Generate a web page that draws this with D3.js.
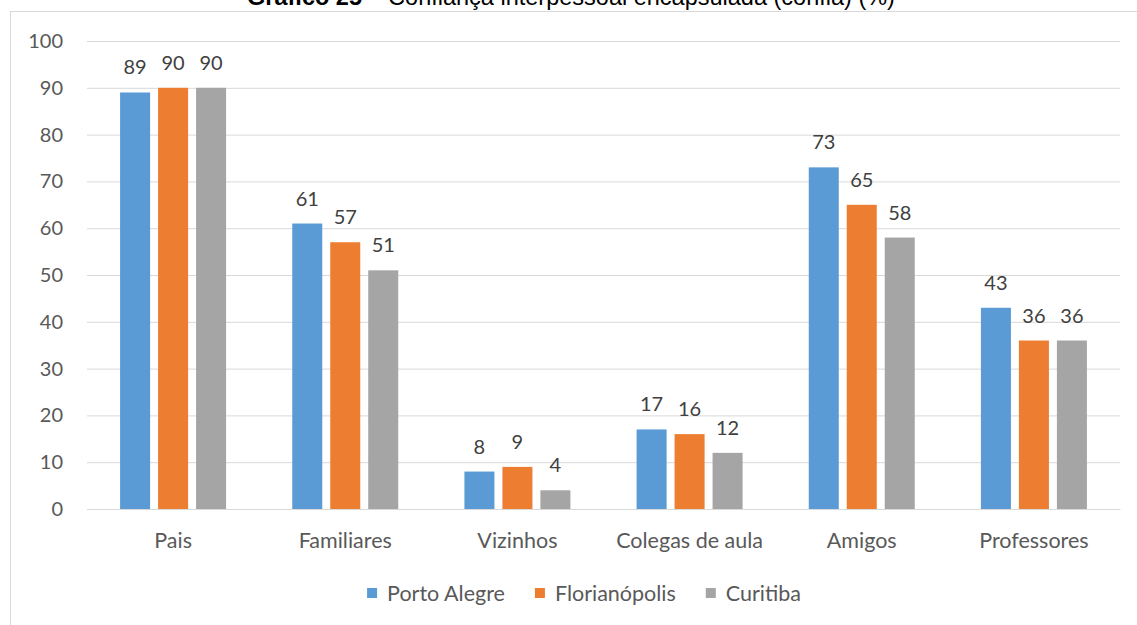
<!DOCTYPE html>
<html>
<head>
<meta charset="utf-8">
<script src="https://cdn.jsdelivr.net/npm/d3@7"></script>
<style>
  html, body { margin: 0; padding: 0; background: #ffffff; }
  svg { display: block; }
</style>
</head>
<body>
<svg id="chart" width="1137" height="625"></svg>
<script>
// Categories, series and values
const categories = ["Pais", "Familiares", "Vizinhos", "Colegas de aula", "Amigos", "Professores"];
const seriesNames = ["Porto Alegre", "Florianópolis", "Curitiba"];
const portoAlegre = [89, 61, 8, 17, 73, 43];
const florianopolis = [90, 57, 9, 16, 65, 36];
const curitiba = [90, 51, 4, 12, 58, 36];
const seriesColors = ["#5b9bd5", "#ed7d31", "#a5a5a5"];
const yTicks = [0, 10, 20, 30, 40, 50, 60, 70, 80, 90, 100];

const seriesValues = [portoAlegre, florianopolis, curitiba];
const rows = categories.map((c, i) => ({
  category: c,
  values: seriesNames.map((s, k) => ({ series: s, value: seriesValues[k][i] }))
}));

const svg = d3.select("#chart");
const W = 1137, H = 625;
const labelFont = "Lato, 'Open Sans', sans-serif";
const numberSize = 20;
const textSize = 21.5;

// Outer chart frame (extends past the right/bottom edge)
svg.append("rect")
  .attr("x", 10.5).attr("y", 11.5)
  .attr("width", W + 20).attr("height", H + 20)
  .attr("fill", "none").attr("stroke", "#d9d9d9").attr("stroke-width", 1);

// Title, partly above the frame
const title = svg.append("text")
  .attr("x", 571).attr("y", 5)
  .attr("text-anchor", "middle")
  .attr("font-family", "'Liberation Sans', Arial, sans-serif")
  .attr("font-size", 23.5)
  .attr("fill", "#000");
title.append("tspan").attr("font-weight", "bold").text("Gráfico 25");
title.append("tspan").text(" – Confiança interpessoal encapsulada (confia) (%)");

const plot = { left: 87, right: 1120, top: 41, bottom: 509 };

const x0 = d3.scaleBand()
  .domain(categories)
  .range([plot.left, plot.right])
  .paddingInner(0).paddingOuter(0);

const x1 = d3.scaleBand()
  .domain(seriesNames)
  .range([0, 106])
  .paddingInner(0.21).paddingOuter(0);
const groupOffset = (x0.bandwidth() - 106) / 2;

const y = d3.scaleLinear().domain([0, 100]).range([plot.bottom, plot.top]);

// Horizontal gridlines and y tick labels
const yAxis = d3.axisLeft(y)
  .tickValues(yTicks)
  .tickSize(-(plot.right - plot.left))
  .tickPadding(24)
  .tickFormat(d3.format("d"));
const gy = svg.append("g")
  .attr("transform", `translate(${plot.left},0)`)
  .call(yAxis);
gy.select(".domain").remove();
gy.selectAll(".tick line").attr("stroke", "#d9d9d9").attr("stroke-width", 1);
gy.selectAll(".tick text")
  .attr("font-family", labelFont)
  .attr("font-size", numberSize)
  .attr("fill", "#595959");

// Category axis
const xAxis = d3.axisBottom(x0).tickSize(0).tickPadding(24);
const gx = svg.append("g")
  .attr("transform", `translate(0,${plot.bottom})`)
  .call(xAxis);
gx.select(".domain").attr("stroke", "#d9d9d9");
gx.selectAll(".tick text")
  .attr("font-family", labelFont)
  .attr("font-size", textSize)
  .attr("fill", "#595959");

// Bars
const groups = svg.append("g").selectAll("g")
  .data(rows)
  .join("g")
  .attr("transform", d => `translate(${x0(d.category) + groupOffset},0)`);

groups.selectAll("rect")
  .data(d => d.values)
  .join("rect")
  .attr("x", d => x1(d.series))
  .attr("y", d => y(d.value))
  .attr("width", x1.bandwidth())
  .attr("height", d => y(0) - y(d.value))
  .attr("fill", (d, i) => seriesColors[i]);

// Value labels
groups.selectAll("text.val")
  .data(d => d.values)
  .join("text")
  .attr("class", "val")
  .attr("x", d => x1(d.series) + x1.bandwidth() / 2)
  .attr("y", d => y(d.value) - 18)
  .attr("text-anchor", "middle")
  .attr("font-family", labelFont)
  .attr("font-size", numberSize)
  .attr("fill", "#404040")
  .text(d => d.value);

// Legend
const legend = svg.append("g");
const items = legend.selectAll("g")
  .data(seriesNames)
  .join("g");
items.append("rect")
  .attr("width", 10).attr("height", 10)
  .attr("y", -5)
  .attr("fill", (d, i) => seriesColors[i]);
items.append("text")
  .attr("x", 20)
  .attr("dy", "0.35em")
  .attr("font-family", labelFont)
  .attr("font-size", textSize)
  .attr("fill", "#595959")
  .text(d => d);
let cursor = 0;
items.each(function () {
  const w = this.getBBox().width;
  d3.select(this).attr("transform", `translate(${cursor},0)`);
  cursor += w + 30;
});
const legendWidth = cursor - 30;
legend.attr("transform", `translate(${584 - legendWidth / 2},593)`);
</script>
</body>
</html>
